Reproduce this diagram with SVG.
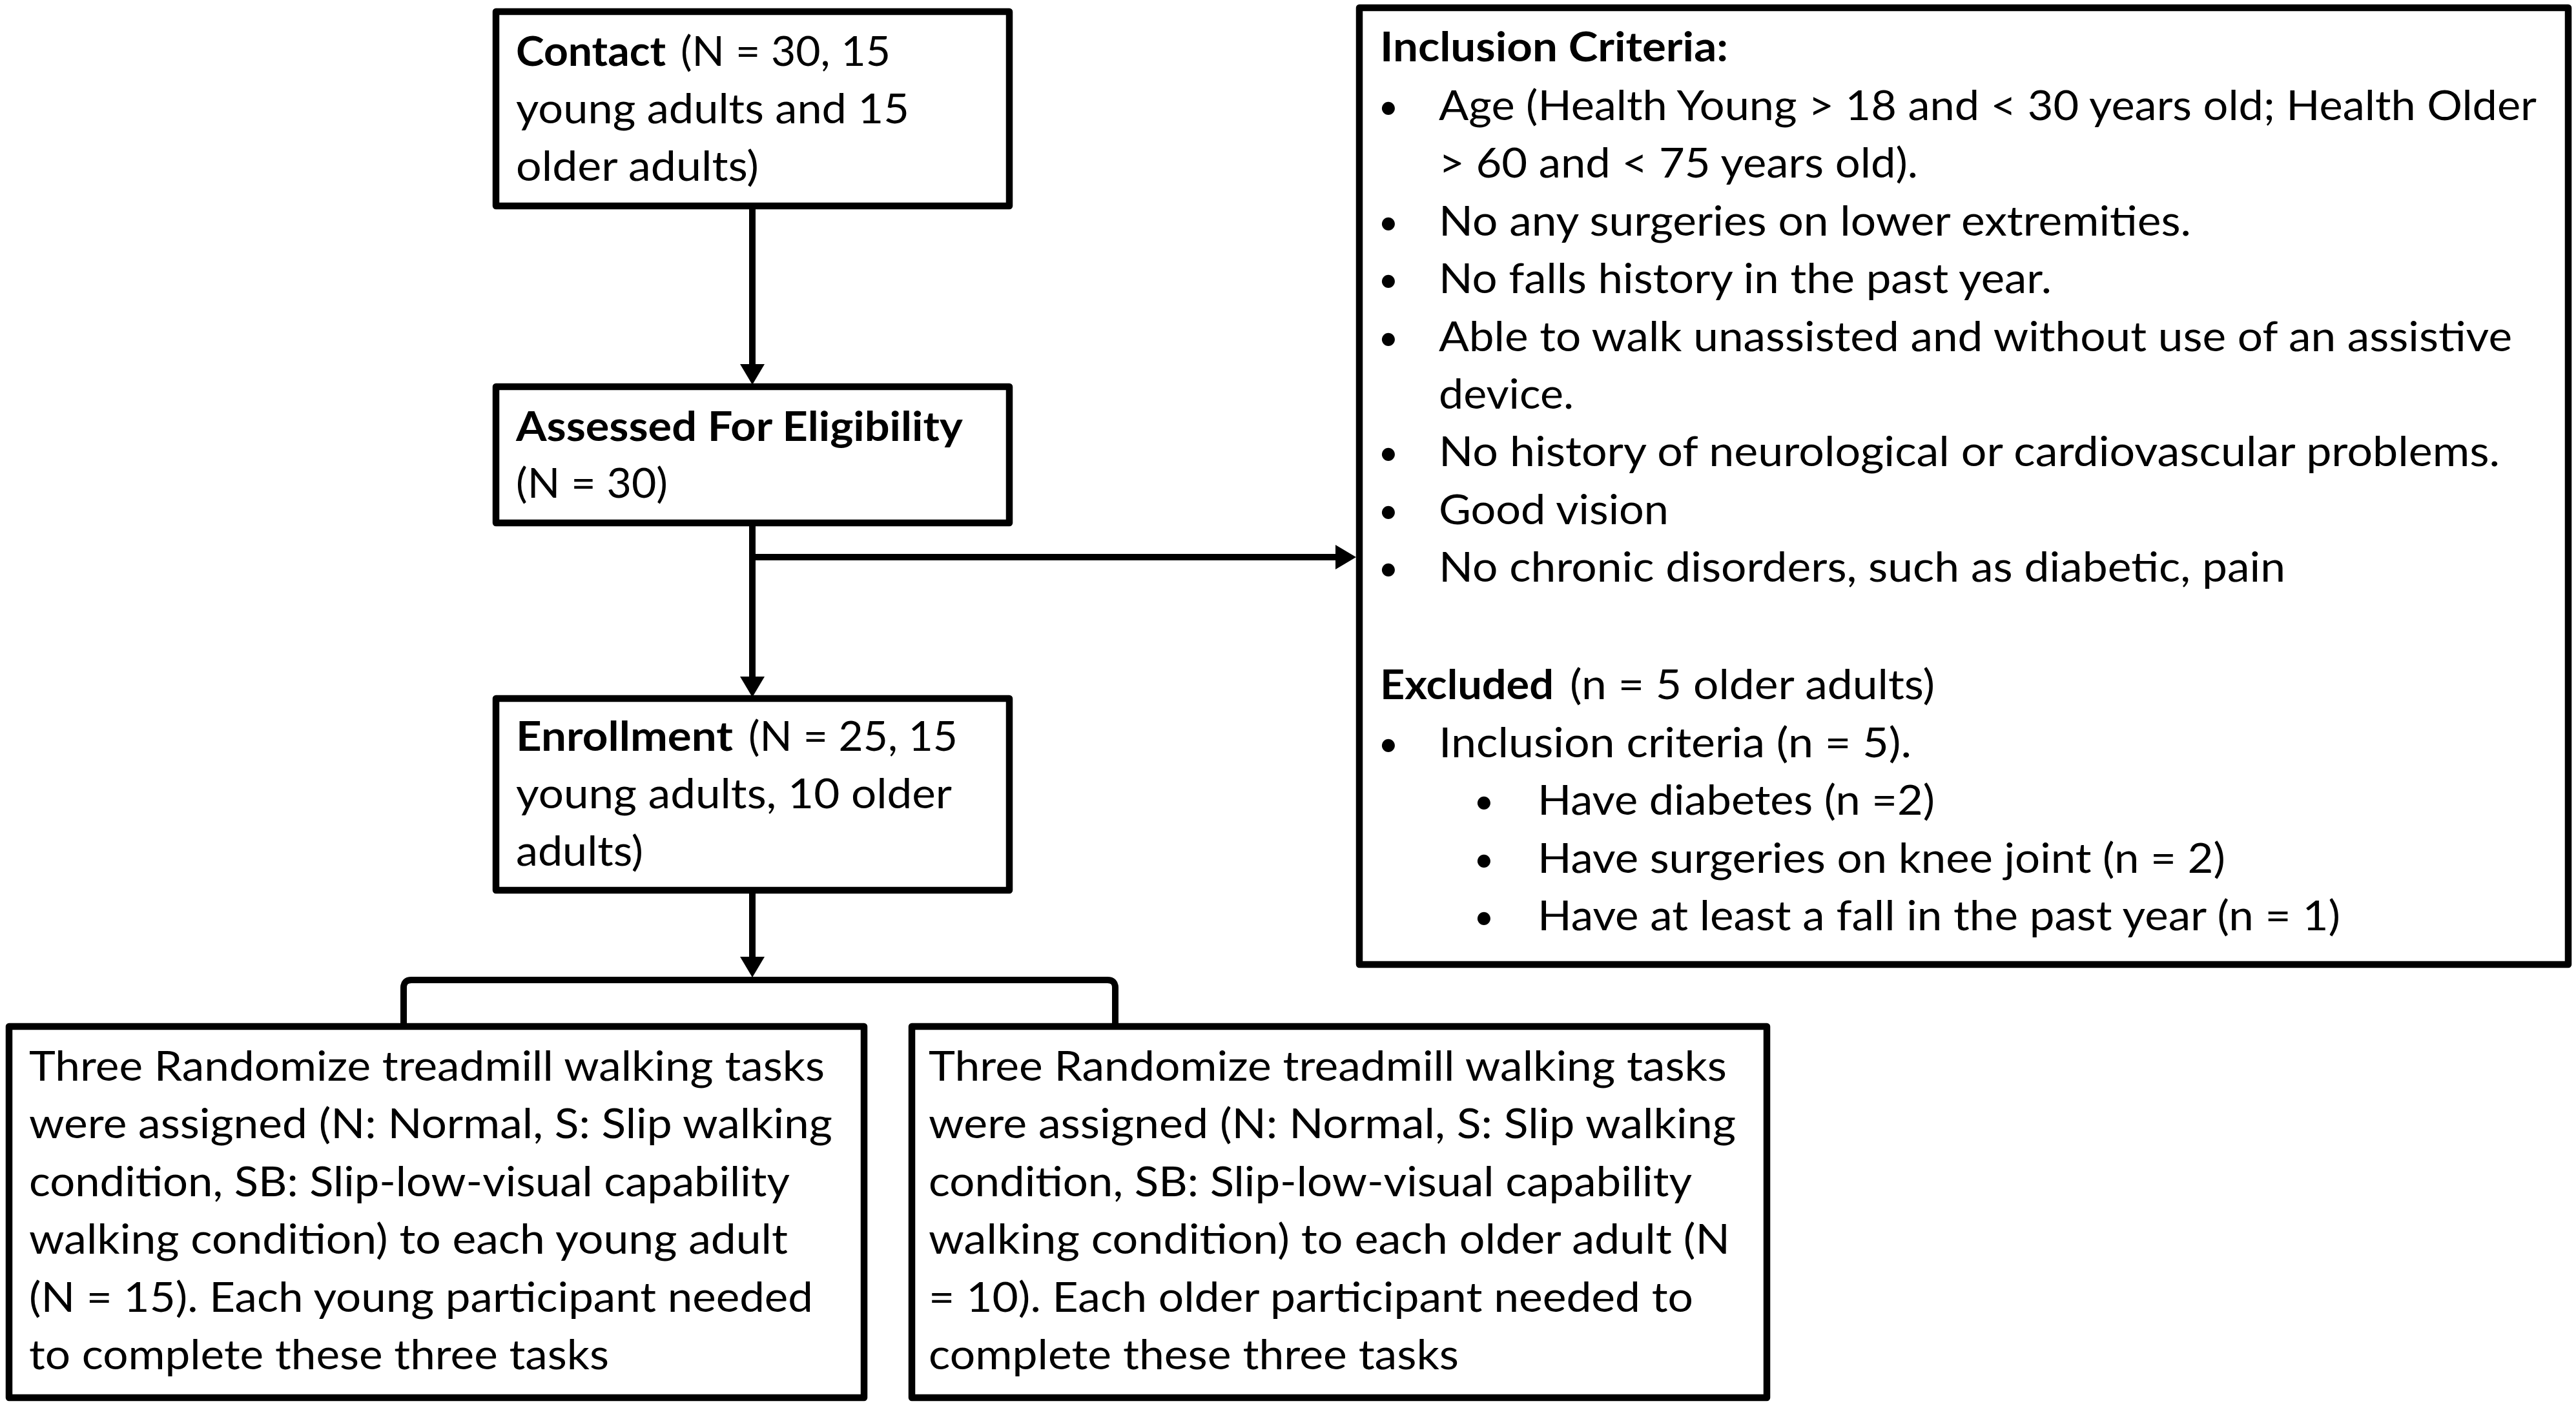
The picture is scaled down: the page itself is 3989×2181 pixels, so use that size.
<svg xmlns="http://www.w3.org/2000/svg" width="3989" height="2181" viewBox="0 0 3989 2181">
<style>
.box{fill:#fff;stroke:#000;stroke-width:10.5;stroke-linejoin:round}
.ln{fill:none;stroke:#000;stroke-width:10}
text{font-family:Lato,"Liberation Sans",sans-serif;font-size:64px;fill:#000}
.b{font-weight:bold}
.bul{text-anchor:middle;font-size:54px}
</style>
<defs>
<marker id="ah" markerUnits="userSpaceOnUse" markerWidth="32" markerHeight="38" refX="0" refY="19" orient="auto" viewBox="0 0 32 38">
<path d="M0,0 L32,19 L0,38 z" fill="#000"/>
</marker>
</defs>
<rect width="3989" height="2181" fill="#fff"/>
<g id="connectors">
<line class="ln" x1="1165" y1="324" x2="1165" y2="564" marker-end="url(#ah)"/>
<line class="ln" x1="1165" y1="815" x2="1165" y2="1048" marker-end="url(#ah)"/>
<line class="ln" x1="1160" y1="863" x2="2068" y2="863" marker-end="url(#ah)"/>
<line class="ln" x1="1165" y1="1384" x2="1165" y2="1482" marker-end="url(#ah)"/>
<path class="ln" d="M625,1590 L625,1530 Q625,1518 637,1518 L1715,1518 Q1727,1518 1727,1530 L1727,1590"/>
</g>
<g id="contact">
<rect class="box" x="768" y="18" width="795" height="301"/>
<text class="b" x="799" y="102" textLength="232" lengthAdjust="spacingAndGlyphs">Contact</text>
<text x="1054" y="102" textLength="325" lengthAdjust="spacingAndGlyphs">(N = 30, 15</text>
<text x="799" y="191" textLength="609" lengthAdjust="spacingAndGlyphs">young adults and 15</text>
<text x="799" y="280" textLength="376" lengthAdjust="spacingAndGlyphs">older adults)</text>
</g>
<g id="assessed">
<rect class="box" x="768" y="599" width="795" height="211"/>
<text class="b" x="799" y="683" textLength="692" lengthAdjust="spacingAndGlyphs">Assessed For Eligibility</text>
<text x="799" y="771" textLength="235" lengthAdjust="spacingAndGlyphs">(N = 30)</text>
</g>
<g id="enrollment">
<rect class="box" x="768" y="1082" width="795" height="297"/>
<text class="b" x="799" y="1163" textLength="336" lengthAdjust="spacingAndGlyphs">Enrollment</text>
<text x="1159" y="1163" textLength="324" lengthAdjust="spacingAndGlyphs">(N = 25, 15</text>
<text x="799" y="1252" textLength="675" lengthAdjust="spacingAndGlyphs">young adults, 10 older</text>
<text x="799" y="1341" textLength="197" lengthAdjust="spacingAndGlyphs">adults)</text>
</g>
<g id="criteria">
<rect class="box" x="2105" y="12" width="1872" height="1482"/>
<text class="b" x="2137" y="95" textLength="539" lengthAdjust="spacingAndGlyphs">Inclusion Criteria:</text>
<text class="bul" x="2150" y="184">•</text>
<text x="2228" y="186" textLength="1700" lengthAdjust="spacingAndGlyphs">Age (Health Young &gt; 18 and &lt; 30 years old; Health Older</text>
<text x="2228" y="275" textLength="742" lengthAdjust="spacingAndGlyphs">&gt; 60 and &lt; 75 years old).</text>
<text class="bul" x="2150" y="363">•</text>
<text x="2228" y="365" textLength="1165" lengthAdjust="spacingAndGlyphs">No any surgeries on lower extremities.</text>
<text class="bul" x="2150" y="452">•</text>
<text x="2228" y="454" textLength="949" lengthAdjust="spacingAndGlyphs">No falls history in the past year.</text>
<text class="bul" x="2150" y="542">•</text>
<text x="2228" y="544" textLength="1662" lengthAdjust="spacingAndGlyphs">Able to walk unassisted and without use of an assistive</text>
<text x="2228" y="633" textLength="209" lengthAdjust="spacingAndGlyphs">device.</text>
<text class="bul" x="2150" y="720">•</text>
<text x="2228" y="722" textLength="1643" lengthAdjust="spacingAndGlyphs">No history of neurological or cardiovascular problems.</text>
<text class="bul" x="2150" y="810">•</text>
<text x="2228" y="812" textLength="356" lengthAdjust="spacingAndGlyphs">Good vision</text>
<text class="bul" x="2150" y="899">•</text>
<text x="2228" y="901" textLength="1311" lengthAdjust="spacingAndGlyphs">No chronic disorders, such as diabetic, pain</text>
<text class="b" x="2137" y="1083" textLength="269" lengthAdjust="spacingAndGlyphs">Excluded</text>
<text x="2431" y="1083" textLength="565" lengthAdjust="spacingAndGlyphs">(n = 5 older adults)</text>
<text class="bul" x="2150" y="1171">•</text>
<text x="2228" y="1173" textLength="732" lengthAdjust="spacingAndGlyphs">Inclusion criteria (n = 5).</text>
<text class="bul" x="2298" y="1260">•</text>
<text x="2381" y="1262" textLength="615" lengthAdjust="spacingAndGlyphs">Have diabetes (n =2)</text>
<text class="bul" x="2298" y="1350">•</text>
<text x="2381" y="1352" textLength="1065" lengthAdjust="spacingAndGlyphs">Have surgeries on knee joint (n = 2)</text>
<text class="bul" x="2298" y="1439">•</text>
<text x="2381" y="1441" textLength="1243" lengthAdjust="spacingAndGlyphs">Have at least a fall in the past year (n = 1)</text>
</g>
<g id="young-tasks">
<rect class="box" x="14" y="1590" width="1324" height="575"/>
<text x="45" y="1674" textLength="1232" lengthAdjust="spacingAndGlyphs">Three Randomize treadmill walking tasks</text>
<text x="45" y="1763" textLength="1244" lengthAdjust="spacingAndGlyphs">were assigned (N: Normal, S: Slip walking</text>
<text x="45" y="1853" textLength="1178" lengthAdjust="spacingAndGlyphs">condition, SB: Slip-low-visual capability</text>
<text x="45" y="1942" textLength="1175" lengthAdjust="spacingAndGlyphs">walking condition) to each young adult</text>
<text x="45" y="2032" textLength="1214" lengthAdjust="spacingAndGlyphs">(N = 15). Each young participant needed</text>
<text x="45" y="2121" textLength="898" lengthAdjust="spacingAndGlyphs">to complete these three tasks</text>
</g>
<g id="older-tasks">
<rect class="box" x="1412" y="1590" width="1324" height="575"/>
<text x="1438" y="1674" textLength="1236" lengthAdjust="spacingAndGlyphs">Three Randomize treadmill walking tasks</text>
<text x="1438" y="1763" textLength="1250" lengthAdjust="spacingAndGlyphs">were assigned (N: Normal, S: Slip walking</text>
<text x="1438" y="1853" textLength="1182" lengthAdjust="spacingAndGlyphs">condition, SB: Slip-low-visual capability</text>
<text x="1438" y="1942" textLength="1241" lengthAdjust="spacingAndGlyphs">walking condition) to each older adult (N</text>
<text x="1438" y="2032" textLength="1184" lengthAdjust="spacingAndGlyphs">= 10). Each older participant needed to</text>
<text x="1438" y="2121" textLength="821" lengthAdjust="spacingAndGlyphs">complete these three tasks</text>
</g>
</svg>
